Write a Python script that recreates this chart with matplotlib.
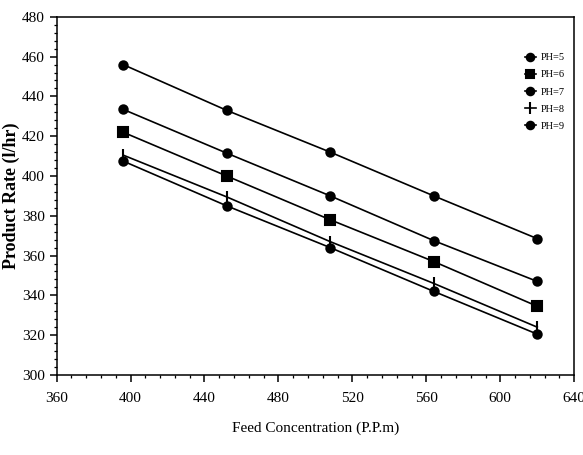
import numpy as np
import matplotlib
matplotlib.use("Agg")
import matplotlib.pyplot as plt
from matplotlib.ticker import MultipleLocator

plt.rcParams["font.family"] = ["Liberation Serif", "DejaVu Serif"]

feed = [396, 452, 508, 564, 620]
labels = ["PH=5", "PH=6", "PH=7", "PH=8", "PH=9"]
ph5 = [456, 433, 412, 390, 368.5]
ph6 = [422, 400, 378, 357, 334.5]
ph7 = [433.5, 411.5, 390, 367.5, 347]
ph8 = [410.5, 389.5, 367, 346, 324]
ph9 = [407.5, 385, 364, 342, 320.5]

series = [ph5, ph6, ph7, ph8, ph9]
markers = ["o", "s", "o", "|", "o"]
msizes = [6, 6.5, 6, 9, 6]

fig = plt.figure(figsize=(5.83, 4.55), dpi=100)
ax = fig.add_axes([0.097, 0.176, 0.888, 0.787])

for vals, lab, m, ms in zip(series, labels, markers, msizes):
    ax.plot(feed, vals, color="black", lw=1.2, marker=m, ms=ms,
            mfc="black", mec="black", mew=1.5, label=lab)

ax.set_xlim(360, 640)
ax.set_ylim(300, 480)
ax.xaxis.set_major_locator(MultipleLocator(40))
ax.xaxis.set_minor_locator(MultipleLocator(8))
ax.yaxis.set_major_locator(MultipleLocator(20))
ax.yaxis.set_minor_locator(MultipleLocator(4))
ax.tick_params(which="major", direction="out", length=5, width=1.1, labelsize=11)
ax.tick_params(axis="x", which="major", pad=7)
ax.tick_params(which="minor", direction="out", length=2.5, width=0.9)
for s in ax.spines.values():
    s.set_linewidth(1.1)

ax.set_xlabel("Feed Concentration (P.P.m)", fontsize=11, labelpad=12)
ax.set_ylabel("Product Rate (l/hr)", fontsize=13, fontweight="bold", labelpad=1)

leg = ax.legend(loc="upper right", bbox_to_anchor=(1.0, 0.925), frameon=False,
                fontsize=7.5, handlelength=1.0, handletextpad=0.5,
                labelspacing=0.75, markerscale=0.9)

fig.savefig("out.png", dpi=100, facecolor="white")
